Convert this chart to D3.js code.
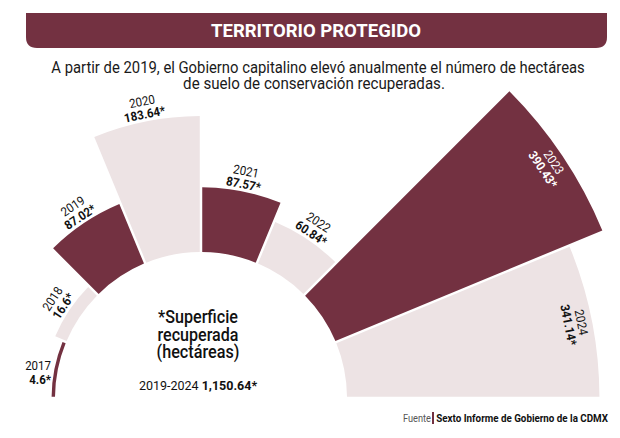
<!DOCTYPE html>
<html><head><meta charset="utf-8">
<script src="https://cdn.jsdelivr.net/npm/d3@7"></script>
<style>body{margin:0;background:#fff}svg{display:block}</style>
</head><body><svg id="c" width="620" height="438"></svg>
<script>
const years = ["2017","2018","2019","2020","2021","2022","2023","2024"];
const values = [4.6, 16.6, 87.02, 183.64, 87.57, 60.84, 390.43, 341.14];
const valueLabels = ["4.6*","16.6*","87.02*","183.64*","87.57*","60.84*","390.43*","341.14*"];
const title = "TERRITORIO PROTEGIDO";
const subtitle = ["A partir de 2019, el Gobierno capitalino elevó anualmente el número de hectáreas",
                  "de suelo de conservación recuperadas."];
const centerLines = ["*Superficie", "recuperada", "(hectáreas)"];
const totalLabel = "2019-2024 ";
const totalValue = "1,150.64*";
const sourceLabel = "Fuente";
const sourceText = "Sexto Informe de Gobierno de la CDMX";

const dark = "#733141", light = "#EDE3E4";
const FONT = "Roboto, 'Open Sans', sans-serif";
const cx = 201, cy = 398, r0 = 146;
const svg = d3.select("#c");

// squeeze a text horizontally to a target width
function fit(sel, x, y, w) {
  sel.attr("x", 0).attr("y", 0);
  const L = sel.node().getComputedTextLength();
  const s = Math.min(1, w / L);
  sel.attr("transform", `translate(${x},${y}) scale(${s},1)`);
  return sel;
}

// Banner
const bx0 = 26, bx1 = 607, by0 = 13, by1 = 48, br = 11;
svg.append("path")
  .attr("d", `M${bx0},${by0} H${bx1} V${by1-br} Q${bx1},${by1} ${bx1-br},${by1} H${bx0+br} Q${bx0},${by1} ${bx0},${by1-br} Z`)
  .attr("fill", dark);
fit(svg.append("text").text(title).attr("text-anchor", "middle")
  .attr("font-family", FONT).attr("font-weight", 700).attr("font-size", 18.5)
  .attr("fill", "#fff"), 316, 36.5, 213);

// Subtitle
const subW = [534, 262], subX = [318, 314], subY = [73, 89];
subtitle.forEach((s, i) => {
  fit(svg.append("text").text(s).attr("text-anchor", "middle")
    .attr("font-family", FONT).attr("font-size", 17).attr("fill", "#1a1a1a"),
    subX[i], subY[i], subW[i]);
});

// Scales
const angle = d3.scaleBand().domain(years).range([-Math.PI / 2, Math.PI / 2]);
const radius = d3.scaleLinear().domain([0, 400]).range([r0, r0 + 296]);
const data = years.map((y, i) => ({ y, v: values[i], lab: valueLabels[i], i }));

const arc = d3.arc()
  .innerRadius(r0)
  .outerRadius(d => radius(d.v))
  .startAngle(d => angle(d.y))
  .endAngle(d => angle(d.y) + angle.bandwidth())
  .padAngle(0.017).padRadius(r0);

const g = svg.append("g").attr("transform", `translate(${cx},${cy})`);
g.selectAll("path.bar").data(data).join("path")
  .attr("class", "bar")
  .attr("d", arc)
  .attr("fill", d => d.i % 2 === 0 ? dark : light);

// Labels
const polar = (r, a) => [r * Math.sin(a), -r * Math.cos(a)];
data.forEach(d => {
  const a = angle(d.y) + angle.bandwidth() / 2;
  const deg = a * 180 / Math.PI;
  const ro = radius(d.v);
  const inside = d.v > 300;
  const col = inside ? (d.i % 2 === 0 ? "#fff" : "#111") : "#111";
  if (deg < -70) {
    const hg = g.append("g").attr("transform", `translate(${51 - cx},0) scale(0.92,1)`);
    hg.append("text").text(d.y).attr("x", 0).attr("y", 370 - cy)
      .attr("text-anchor", "end").attr("font-family", FONT).attr("font-size", 12.5).attr("fill", col);
    hg.append("text").text(d.lab).attr("x", 0).attr("y", 384 - cy)
      .attr("text-anchor", "end").attr("font-family", FONT).attr("font-weight", 700)
      .attr("font-size", 12.5).attr("fill", col);
    return;
  }
  const rb = inside ? ro - 28 : ro + 3;
  const [x, y] = polar(rb, a);
  const lg = g.append("g").attr("transform", `translate(${x},${y}) rotate(${deg}) scale(0.92,1)`);
  lg.append("text").text(d.y).attr("x", 0).attr("y", -13)
    .attr("text-anchor", "middle").attr("font-family", FONT).attr("font-size", 12.5).attr("fill", col);
  lg.append("text").text(d.lab).attr("x", 0).attr("y", 0)
    .attr("text-anchor", "middle").attr("font-family", FONT).attr("font-weight", 700)
    .attr("font-size", 12.5).attr("fill", col);
});

// Center text
const cW = [80, 81, 83], cY = [323, 341, 358];
centerLines.forEach((s, i) => {
  fit(svg.append("text").text(s).attr("text-anchor", "middle")
    .attr("font-family", FONT).attr("font-weight", 500).attr("font-size", 17.5).attr("fill", "#111"),
    198, cY[i], cW[i]);
});
const tt = svg.append("text").attr("x", 198).attr("y", 390).attr("text-anchor", "middle")
  .attr("font-family", FONT).attr("font-size", 12.5).attr("fill", "#111");
tt.append("tspan").text(totalLabel);
tt.append("tspan").text(totalValue).attr("font-weight", 700);

// Source
fit(svg.append("text").text(sourceLabel).attr("text-anchor", "end")
  .attr("font-family", FONT).attr("font-size", 11).attr("fill", "#555"), 431, 422, 28);
svg.append("rect").attr("x", 432).attr("y", 412).attr("width", 2).attr("height", 12).attr("fill", dark);
fit(svg.append("text").text(sourceText).attr("text-anchor", "end")
  .attr("font-family", FONT).attr("font-weight", 700).attr("font-size", 11).attr("fill", "#111"), 608, 422, 172);
</script></body></html>
